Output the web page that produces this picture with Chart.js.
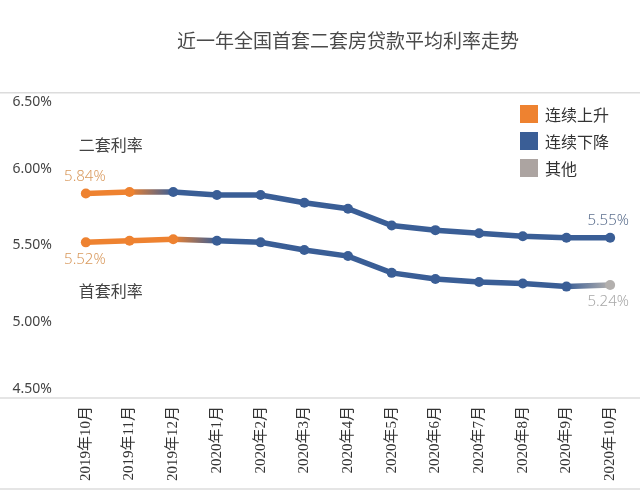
<!DOCTYPE html>
<html>
<head>
<meta charset="utf-8">
<script src="https://cdn.jsdelivr.net/npm/chart.js@4"></script>
<style>
  html, body { margin: 0; padding: 0; background: #fff; }
  #wrap { position: relative; width: 640px; height: 491px; }
  #c { position: absolute; left: 0; top: 0; }
  #legend { position: absolute; left: 520px; top: 100px; font-family: "Noto Sans CJK SC", sans-serif; font-size: 16px; color: #333; }
  .row { display: flex; align-items: center; height: 27px; }
  .sw { width: 18px; height: 18px; margin-right: 7px; }
</style>
</head>
<body>
<div id="wrap">
  <canvas id="c" width="640" height="491"></canvas>
  <div id="legend"></div>
</div>
<script>
const titleText = '近一年全国首套二套房贷款平均利率走势';
const categories = ['2019年10月','2019年11月','2019年12月','2020年1月','2020年2月','2020年3月','2020年4月','2020年5月','2020年6月','2020年7月','2020年8月','2020年9月','2020年10月'];
const secondRate = [5.84, 5.85, 5.85, 5.83, 5.83, 5.78, 5.74, 5.63, 5.60, 5.58, 5.56, 5.55, 5.55];
const firstRate  = [5.52, 5.53, 5.54, 5.53, 5.52, 5.47, 5.43, 5.32, 5.28, 5.26, 5.25, 5.23, 5.24];
const secondTrend = ['up','up','down','down','down','down','down','down','down','down','down','down','down'];
const firstTrend  = ['up','up','up','down','down','down','down','down','down','down','down','down','other'];
const seriesNames = ['二套利率', '首套利率'];
const legendItems = [['up','连续上升'], ['down','连续下降'], ['other','其他']];
const yMin = 4.5, yMax = 6.5, yStep = 0.5;

const trendColors = { up: '#EE8230', down: '#3A5E96', other: '#B3B0AE' };
const labelColors = { up: '#D99A5E', down: '#5F7290', other: '#A8A8A8' };

// legend (HTML)
const lg = document.getElementById('legend');
legendItems.forEach(([k, t]) => {
  const r = document.createElement('div'); r.className = 'row';
  const s = document.createElement('div'); s.className = 'sw'; s.style.background = k === 'other' ? '#ACA4A1' : trendColors[k];
  const tx = document.createElement('span'); tx.textContent = t;
  r.appendChild(s); r.appendChild(tx); lg.appendChild(r);
});

const canvas = document.getElementById('c');
const g = canvas.getContext('2d');

function segColor(trend) {
  return (ctx) => {
    const a = trend[ctx.p0DataIndex], b = trend[ctx.p1DataIndex];
    if (a === b) return trendColors[a];
    const grad = g.createLinearGradient(ctx.p0.x, 0, ctx.p1.x, 0);
    grad.addColorStop(0, trendColors[a]);
    grad.addColorStop(1, trendColors[b]);
    return grad;
  };
}

function makeDataset(name, data, trend) {
  const cols = trend.map(t => trendColors[t]);
  return {
    label: name,
    data: data,
    borderWidth: 5.5,
    borderColor: trendColors.down,
    pointRadius: 5,
    pointBorderWidth: 0,
    pointBackgroundColor: cols,
    pointBorderColor: cols,
    tension: 0,
    segment: { borderColor: segColor(trend) },
    trend: trend
  };
}

const framePlugin = {
  id: 'frame',
  beforeDraw(chart) {
    const c = chart.ctx, a = chart.chartArea;
    c.save();
    c.strokeStyle = '#DCDCDC';
    c.lineWidth = 1.5;
    [a.top, a.bottom, 489].forEach(y => {
      c.beginPath(); c.moveTo(0, y); c.lineTo(chart.width, y); c.stroke();
    });
    c.restore();
  }
};

const annotPlugin = {
  id: 'annot',
  afterDatasetsDraw(chart) {
    const c = chart.ctx;
    c.save();
    c.textAlign = 'center';
    c.textBaseline = 'middle';
    chart.data.datasets.forEach((ds, di) => {
      const meta = chart.getDatasetMeta(di);
      const first = meta.data[0], last = meta.data[meta.data.length - 1];
      const dir = di === 0 ? -1 : 1;
      c.font = '16px "Noto Sans CJK SC", sans-serif';
      c.fillStyle = '#444';
      c.fillText(ds.label, first.x + 25, first.y + dir * 49);
      c.font = '300 15px "Noto Sans", "Open Sans", sans-serif';
      const n = ds.data.length;
      c.fillStyle = labelColors[ds.trend[0]];
      c.fillText(ds.data[0].toFixed(2) + '%', first.x - 1, first.y + dir * 17);
      c.fillStyle = labelColors[ds.trend[n - 1]];
      c.fillText(ds.data[n - 1].toFixed(2) + '%', last.x - 2, last.y + dir * 17);
    });
    c.restore();
  }
};

new Chart(canvas, {
  type: 'line',
  data: {
    labels: categories,
    datasets: [
      makeDataset(seriesNames[0], secondRate, secondTrend),
      makeDataset(seriesNames[1], firstRate, firstTrend)
    ]
  },
  options: {
    responsive: false,
    animation: false,
    layout: { padding: { left: 0, right: 8, top: 0, bottom: 10 } },
    plugins: {
      legend: { display: false },
      tooltip: { enabled: false },
      title: {
        display: true,
        text: titleText,
        fullSize: false,
        color: '#4a4a4a',
        font: { family: '"Noto Sans CJK SC", sans-serif', size: 19, weight: 'normal', lineHeight: 1.2 },
        padding: { top: 29, bottom: 41 }
      }
    },
    scales: {
      x: {
        offset: true,
        grid: { display: false, drawTicks: false },
        border: { display: false },
        ticks: {
          autoSkip: false,
          minRotation: 90,
          maxRotation: 90,
          padding: 8,
          color: '#333',
          font: { family: '"Liberation Serif", "Noto Sans CJK SC", serif', size: 15 }
        },
        afterFit(scale) { scale.height = 83; }
      },
      y: {
        min: yMin,
        max: yMax,
        grid: { display: false, drawTicks: false },
        border: { display: false },
        ticks: {
          stepSize: yStep,
          padding: 12,
          color: '#444',
          font: { family: '"Noto Sans", sans-serif', size: 14, lineHeight: 1.35 },
          callback(v) {
            const s = v.toFixed(2) + '%';
            if (Math.abs(v - yMax) < 1e-9) return ['', s];
            if (Math.abs(v - yMin) < 1e-9) return [s, ''];
            return s;
          }
        },
        afterFit(scale) { scale.width = 64; }
      }
    }
  },
  plugins: [framePlugin, annotPlugin]
});
</script>
</body>
</html>
